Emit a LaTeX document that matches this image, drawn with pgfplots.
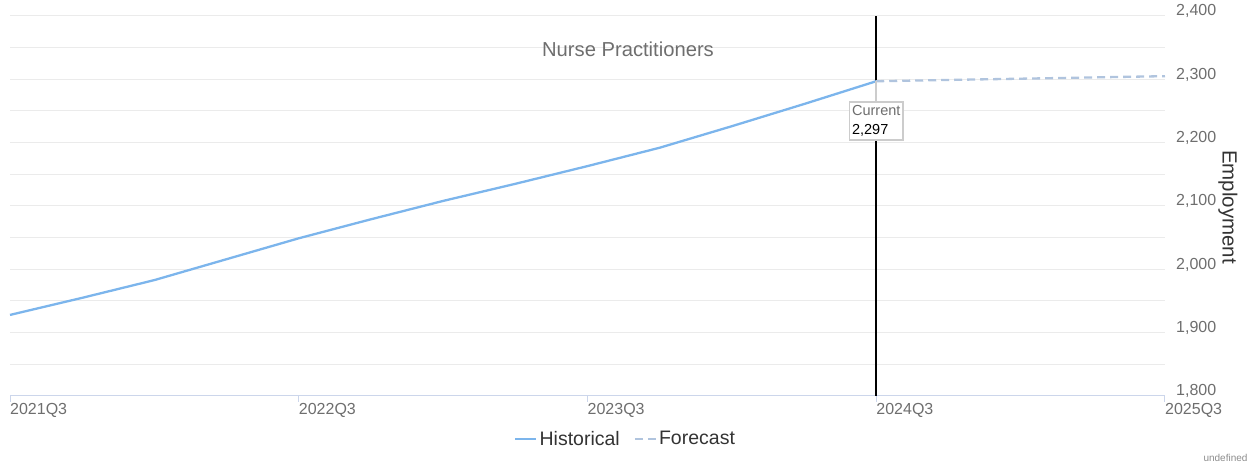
\documentclass[border=0pt]{standalone}
\usepackage{pgfplots}
\pgfplotsset{compat=1.18}
\usepackage{fontspec}
\setmainfont{Liberation Sans}
\definecolor{histc}{HTML}{7CB5EC}
\definecolor{fcc}{HTML}{B0C4DE}
\definecolor{axisc}{HTML}{CCD6EB}
\definecolor{gridc}{HTML}{EBEBEB}
\definecolor{lbl}{HTML}{6E6E6E}
\definecolor{txt}{HTML}{333333}
\definecolor{boxc}{HTML}{CCCCCC}
\begin{document}
\begin{tikzpicture}
\useasboundingbox (0pt,0pt) rectangle (1253pt,465pt);
\begin{axis}[
  at={(10pt,69pt)}, anchor=south west,
  scale only axis, width=1155pt, height=380pt,
  xmin=0, xmax=16, ymin=1800, ymax=2400,
  clip=false,
  axis x line=bottom, axis y line=right,
  x axis line style={draw=axisc, line width=1pt, -},
  y axis line style={draw=none},
  xtick={0,4,8,12,16},
  xticklabels={2021Q3,2022Q3,2023Q3,2024Q3,2025Q3},
  xtick style={draw=axisc, line width=1pt},
  ytick={1800,1900,...,2400},
  minor ytick={1850,1950,...,2350},
  ytick style={draw=none},
  minor y tick style={draw=none},
  major tick length=6pt, tick align=outside,
  ymajorgrids, yminorgrids,
  major grid style={draw=gridc, line width=1pt},
  minor grid style={draw=gridc, line width=1pt},
  /pgf/number format/.cd, 1000 sep={,}, assume math mode=true, /pgfplots/.cd,
  xticklabel style={anchor=north west, inner sep=0pt, yshift=-1pt, font=\fontsize{16}{18}\selectfont, text=lbl},
  yticklabel style={anchor=base west, inner sep=0pt, xshift=5pt, font=\fontsize{16}{18}\selectfont, text=lbl},
  legend style={at={(0.533,-0.113)}, anchor=center, draw=none, fill=none,
    font=\fontsize{19.5}{22}\selectfont, text=txt, legend columns=2,
    /tikz/every even column/.append style={column sep=12pt},
    inner sep=0pt, cells={anchor=west}},
  legend image code/.code={\draw[#1] (0pt,0pt) -- (21pt,0pt);},
]
\addplot[black, line width=2pt, forget plot] coordinates {(12,1800) (12,2400)};
\addplot[histc, line width=2.3pt] coordinates {
 (0,1928) (1,1955) (2,1983) (3,2016) (4,2049) (5,2079) (6,2108)
 (7,2135) (8,2163) (9,2192) (10,2226) (11,2261) (12,2297)};
\addlegendentry{Historical}
\addplot[fcc, line width=2.3pt, dash pattern=on 8pt off 5pt] coordinates {
 (12,2297) (13,2299) (14,2301) (15,2303) (16,2305)};
\addlegendentry{Forecast}
\draw[boxc, line width=1.5pt] (axis cs:12,2297) -- ++(0pt,-20pt)
  node[anchor=north, fill=white, draw=boxc, line width=1.5pt, align=left, text=black,
       inner xsep=2.5pt, inner ysep=3.5pt, font=\fontsize{14.5}{19}\selectfont]
  {\textcolor{lbl}{Current}\\2,297};
\end{axis}
\node[text=lbl, font=\fontsize{20.2}{23}\selectfont] at (628pt,416pt) {Nurse Practitioners};
\node[rotate=-90, text=txt, font=\fontsize{20.5}{24}\selectfont] at (1228pt,258pt) {Employment};
\node[anchor=east, text=black!45, font=\fontsize{10}{12}\selectfont] at (1251pt,7pt) {undefined};
\end{tikzpicture}
\end{document}
